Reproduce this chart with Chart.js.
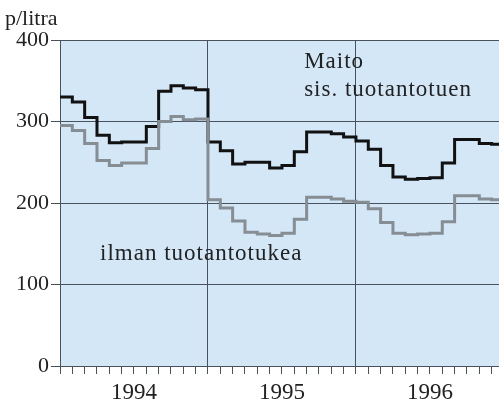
<!DOCTYPE html>
<html>
<head>
<meta charset="utf-8">
<script src="https://cdn.jsdelivr.net/npm/chart.js@4/dist/chart.umd.min.js"></script>
<style>
  html, body { margin: 0; padding: 0; background: #fff; }
  #wrap { width: 499px; height: 403px; }
</style>
</head>
<body>
<div id="wrap"><canvas id="milkChart"></canvas></div>
<script>
// maidon hinta p/litra, kuukausittain 1994-1996
const years = ['1994', '1995', '1996'];
const withSubsidy = [330, 324, 305, 283, 274, 275, 275, 294, 337, 344, 341, 339,
                     275, 264, 248, 250, 250, 243, 246, 263, 287, 287, 285, 281,
                     276, 266, 246, 232, 229, 230, 231, 249, 278, 278, 273, 272];
const withoutSubsidy = [295, 289, 273, 252, 246, 249, 249, 267, 300, 306, 302, 303,
                        204, 194, 178, 164, 162, 160, 163, 180, 207, 207, 205, 202,
                        201, 193, 176, 163, 161, 162, 163, 177, 209, 209, 205, 204];

const serif = '"Liberation Serif", "Times New Roman", serif';
const gridColor = '#47525c';
const textColor = '#222';

// each value holds for its month, so add closing point after the last month
function steps(values) {
  const pts = values.map((v, i) => ({ x: i, y: v }));
  pts.push({ x: values.length, y: values[values.length - 1] });
  return pts;
}

const labelsPlugin = {
  id: 'labels',
  beforeDraw(chart) {
    const { ctx, chartArea: a } = chart;
    ctx.save();
    ctx.fillStyle = '#d3e7f7';
    ctx.fillRect(a.left, a.top, a.right - a.left, a.bottom - a.top);
    ctx.restore();
  },
  afterDraw(chart) {
    const { ctx, scales: { x, y } } = chart;
    ctx.save();
    ctx.fillStyle = textColor;
    ctx.textBaseline = 'alphabetic';
    ctx.textAlign = 'left';
    ctx.font = '22px ' + serif;
    ctx.fillText('p/litra', 5, 25);
    ctx.font = '23px ' + serif;
    ctx.letterSpacing = '1px';
    ctx.fillText('Maito', x.getPixelForValue(19.8), y.getPixelForValue(366));
    ctx.fillText('sis. tuotantotuen', x.getPixelForValue(19.8), y.getPixelForValue(331));
    ctx.fillText('ilman tuotantotukea', x.getPixelForValue(3.25), y.getPixelForValue(130));
    ctx.restore();
  }
};

new Chart(document.getElementById('milkChart').getContext('2d'), {
  type: 'line',
  data: {
    datasets: [{
      label: 'ilman tuotantotukea',
      data: steps(withoutSubsidy),
      stepped: 'before',
      borderColor: '#868d93',
      borderWidth: 3,
      pointRadius: 0,
      fill: false
    },
    {
      label: 'Maito sis. tuotantotuen',
      data: steps(withSubsidy),
      stepped: 'before',
      borderColor: '#111',
      borderWidth: 3,
      pointRadius: 0,
      fill: false
    }]
  },
  options: {
    responsive: true,
    maintainAspectRatio: false,
    animation: false,
    layout: { padding: { top: 40, right: 0, left: 0, bottom: 0 } },
    plugins: { legend: { display: false }, tooltip: { enabled: false } },
    scales: {
      x: {
        type: 'linear',
        min: 0,
        max: 35.6,
        afterFit: s => { s.height = 37; },
        afterBuildTicks: s => { s.ticks = withSubsidy.map((_, i) => ({ value: i })); },
        ticks: {
          autoSkip: false,
          maxRotation: 0,
          padding: 5,
          color: textColor,
          font: { family: serif, size: 23 },
          callback: v => (v % 12 === 6 ? years[Math.floor(v / 12)] : '')
        },
        grid: {
          color: c => (c.tick && c.tick.value % 12 === 0 ? gridColor : 'rgba(0,0,0,0)'),
          tickColor: gridColor,
          tickLength: 8,
          lineWidth: 1
        },
        border: { color: gridColor, width: 1 }
      },
      y: {
        min: 0,
        max: 400,
        afterFit: s => { s.width = 60; },
        ticks: {
          stepSize: 100,
          padding: 2,
          color: textColor,
          font: { family: serif, size: 22 }
        },
        grid: { color: gridColor, tickLength: 9, lineWidth: 1 },
        border: { color: gridColor, width: 1 }
      }
    }
  },
  plugins: [labelsPlugin]
});
</script>
</body>
</html>
